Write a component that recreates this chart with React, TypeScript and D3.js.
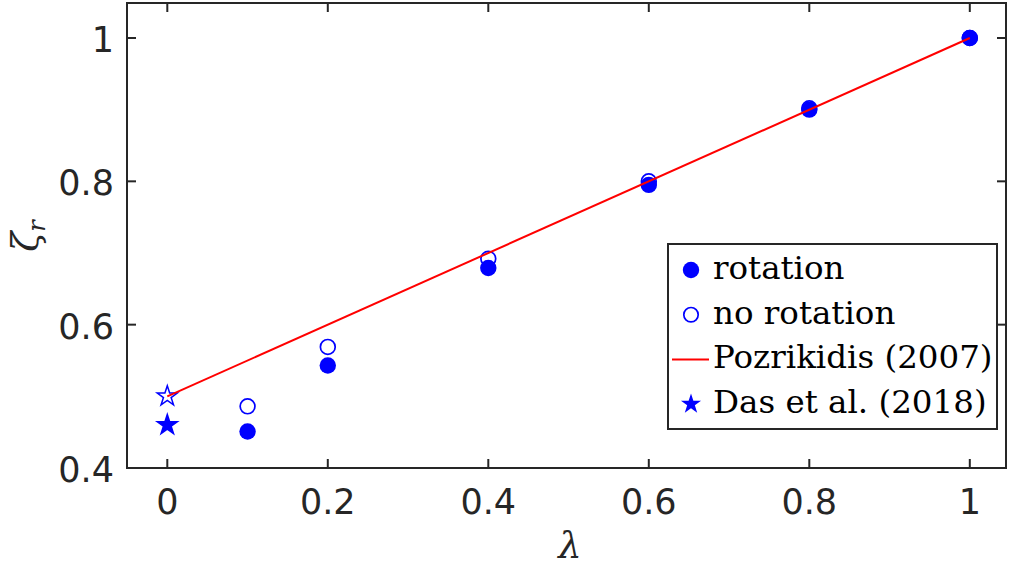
import React from "react";
import * as d3 from "d3";

// data
const lambdaVals = [0.1, 0.2, 0.4, 0.6, 0.8, 1.0];
const rotation = [0.451, 0.543, 0.679, 0.795, 0.900, 1.0];
const noRotation = [0.486, 0.569, 0.692, 0.800, 0.902, 1.0];
const pozLambda = [0, 1];
const pozZeta = [0.5, 1.0];
const dasLambda = [0, 0];
const dasZeta = [0.5, 0.46];
const dasFilled = [false, true];
const xTicks = [0, 0.2, 0.4, 0.6, 0.8, 1];
const yTicks = [0.4, 0.6, 0.8, 1];
const legendLabels = ["rotation", "no rotation", "Pozrikidis (2007)", "Das et al. (2018)"];

const W = 1012;
const H = 571;
const BLUE = "#0000ff";
const RED = "#ff0000";
const AXIS = "#262626";
const SANS = "DejaVu Sans";
const SERIF = "DejaVu Serif";

const box = { x0: 127, x1: 1006, y0: 3, y1: 468 };
const x = d3.scaleLinear().domain([0, 1]).range([167.3, 969.8]);
const y = d3.scaleLinear().domain([0.4, 1]).range([box.y1, 38]);
const fmt = d3.format("~g");
const starPath = d3.symbol().type(d3.symbolStar).size(125)() as string;
const pozLine = d3.line<number>().x(d => x(d)).y((d, i) => y(pozZeta[i]))(pozLambda) as string;

const App = () => {
  const { x0, x1, y0, y1 } = box;
  const tickLen = 9;
  const lgX = 668, lgY = 244;
  const rowY = (i: number) => 26 + i * 44.7;
  const markX = 23;

  return (
    <div style={{ width: W, height: H }}>
      <svg width={W} height={H} style={{ position: "absolute", left: 0, top: 0, background: "white" }}>
        {/* open circles */}
        {lambdaVals.map((d, i) => (
          <circle key={"o" + i} cx={x(d)} cy={y(noRotation[i])} r={7.4} fill="none" stroke={BLUE} strokeWidth={1.7} />
        ))}
        {/* filled circles */}
        {lambdaVals.map((d, i) => (
          <circle key={"f" + i} cx={x(d)} cy={y(rotation[i])} r={8.2} fill={BLUE} />
        ))}
        {/* stars */}
        {dasLambda.map((d, i) => (
          <path key={"s" + i} d={starPath} transform={`translate(${x(d)},${y(dasZeta[i])})`}
            fill={dasFilled[i] ? BLUE : "white"} stroke={BLUE} strokeWidth={1.5} />
        ))}
        {/* reference line */}
        <path d={pozLine} fill="none" stroke={RED} strokeWidth={2} />

        {/* axes box */}
        <rect x={x0} y={y0} width={x1 - x0} height={y1 - y0} fill="none" stroke={AXIS} strokeWidth={2} />
        {xTicks.map(t => (
          <g key={"xt" + t}>
            <line x1={x(t)} x2={x(t)} y1={y1} y2={y1 - tickLen} stroke={AXIS} strokeWidth={2} />
            <line x1={x(t)} x2={x(t)} y1={y0} y2={y0 + tickLen} stroke={AXIS} strokeWidth={2} />
            <text x={x(t)} y={514} textAnchor="middle" fontFamily={SANS} fontSize={35} fill={AXIS}>{fmt(t)}</text>
          </g>
        ))}
        {yTicks.map(t => (
          <g key={"yt" + t}>
            <line x1={x0} x2={x0 + tickLen} y1={y(t)} y2={y(t)} stroke={AXIS} strokeWidth={2} />
            <line x1={x1} x2={x1 - tickLen} y1={y(t)} y2={y(t)} stroke={AXIS} strokeWidth={2} />
            <text x={x0 - 13} y={y(t) + 14} textAnchor="end" fontFamily={SANS} fontSize={35} fill={AXIS}>{fmt(t)}</text>
          </g>
        ))}

        {/* axis labels */}
        <text x={570} y={558} textAnchor="middle" fontFamily={SERIF} fontStyle="italic" fontSize={37} fill={AXIS}>λ</text>
        <text transform="translate(38,236) rotate(-90)" textAnchor="middle" fontFamily={SERIF} fontStyle="italic" fontSize={37} fill={AXIS}>
          ζ<tspan dy={7} fontSize={24}>r</tspan>
        </text>

        {/* legend */}
        <g transform={`translate(${lgX},${lgY})`}>
          <rect width={329} height={185} fill="white" stroke={AXIS} strokeWidth={2} />
          <circle cx={markX} cy={rowY(0)} r={8.2} fill={BLUE} />
          <circle cx={markX} cy={rowY(1)} r={7.2} fill="none" stroke={BLUE} strokeWidth={1.7} />
          <line x1={4} x2={41} y1={rowY(2)} y2={rowY(2)} stroke={RED} strokeWidth={2} />
          <path d={starPath} transform={`translate(${markX},${rowY(3)})`} fill={BLUE} />
          {legendLabels.map((lbl, i) => (
            <text key={lbl} x={45} y={rowY(i) + 9} fontFamily={SERIF} fontSize={32.5} fill="black">{lbl}</text>
          ))}
        </g>
      </svg>
    </div>
  );
};

export default App;
